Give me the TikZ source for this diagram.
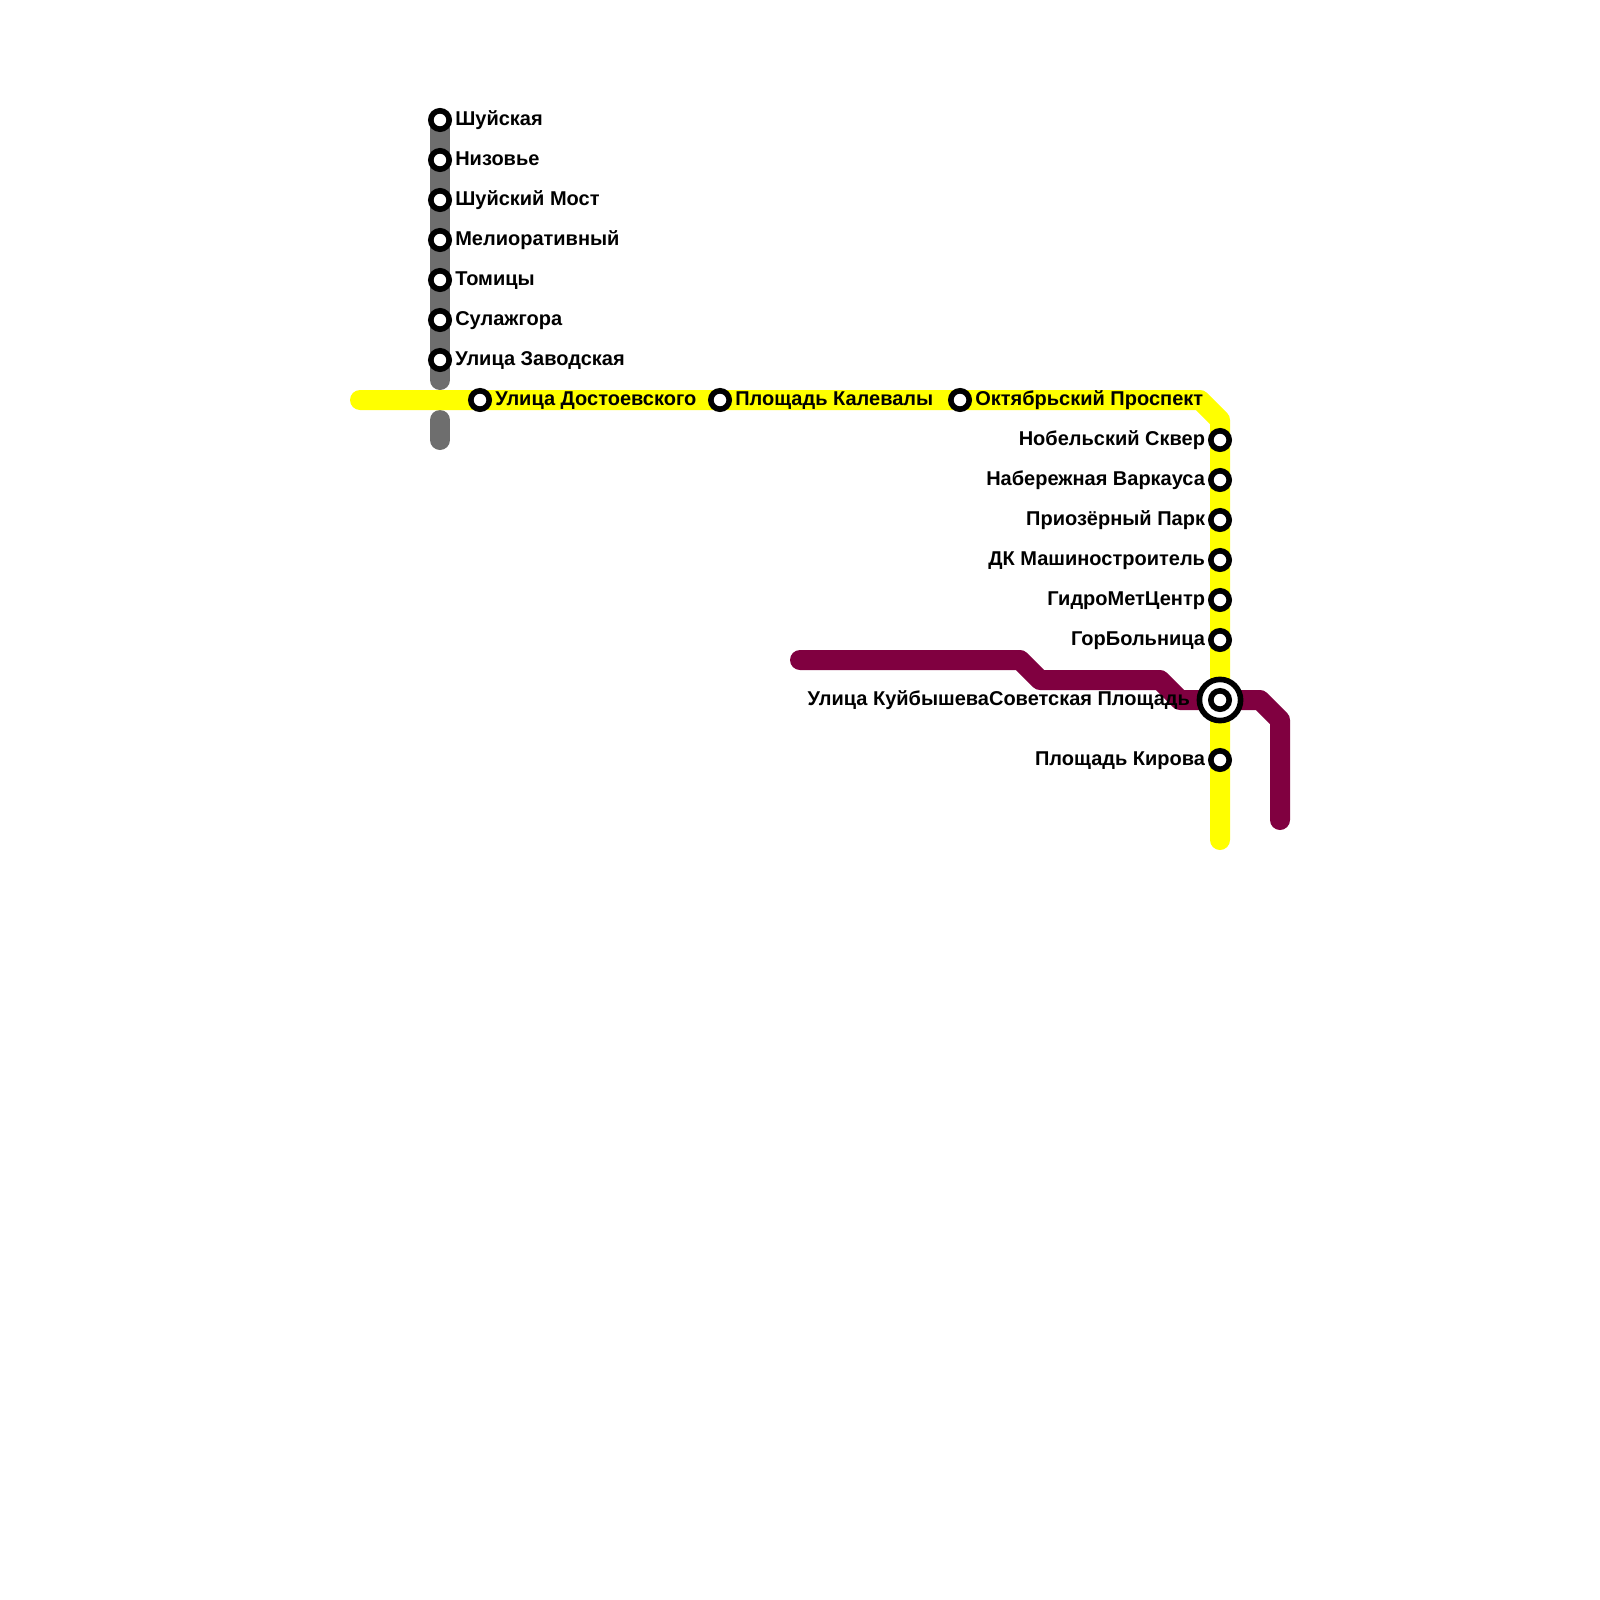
\documentclass[tikz,border=0pt]{standalone}
\usepackage{fontspec}
\setmainfont{Liberation Sans}
\usetikzlibrary{backgrounds,positioning}
\definecolor{amarillo}{HTML}{FFFF00}
\definecolor{gris}{HTML}{6E6E6E}
\definecolor{granate}{HTML}{800040}

\begin{document}
\begin{tikzpicture}[x=1pt, y=-1pt,
      linea/.style={line width=20pt, line cap=round, line join=round},
      estacion/.style={circle, draw=black, fill=white, line width=5.6pt, minimum size=18.4pt, inner sep=0pt},
      cruce/.style={circle, draw=black, fill=white, line width=5.6pt, minimum size=41.2pt, inner sep=0pt},
      rotulo/.style={font=\bfseries\fontsize{20}{20}\selectfont, text=black, inner sep=0pt,
                     text height=14pt, text depth=0pt, yshift=1.5pt}]
    \useasboundingbox (0,0) rectangle (1600,1600);
    % linea gris
    \node[estacion] (shuiskaya) at (440,120) {};
    \node[estacion] (nizovie) at (440,160) {};
    \node[estacion] (most) at (440,200) {};
    \node[estacion] (melior) at (440,240) {};
    \node[estacion] (tomitsy) at (440,280) {};
    \node[estacion] (sulazh) at (440,320) {};
    \node[estacion] (zavod) at (440,360) {};
    \coordinate (grisA) at (440,380);
    \coordinate (grisB) at (440,420);
    \coordinate (grisC) at (440,440);
    % linea amarilla
    \coordinate (amaA) at (360,400);
    \coordinate (amaB) at (1200,400);
    \coordinate (amaC) at (1220,420);
    \coordinate (amaD) at (1220,840);
    \node[estacion] (dostoev) at (480,400) {};
    \node[estacion] (kalevala) at (720,400) {};
    \node[estacion] (oktyabr) at (960,400) {};
    \node[estacion] (nobel) at (1220,440) {};
    \node[estacion] (varkaus) at (1220,480) {};
    \node[estacion] (priozer) at (1220,520) {};
    \node[estacion] (mashin) at (1220,560) {};
    \node[estacion] (gidromet) at (1220,600) {};
    \node[estacion] (gorbol) at (1220,640) {};
    \node[cruce] (sovet) at (1220,700) {};
    \node[estacion] (kuib) at (1220,700) {};
    \node[estacion] (kirov) at (1220,760) {};
    % linea granate
    \coordinate (graA) at (800,660);
    \coordinate (graB) at (1020,660);
    \coordinate (graC) at (1040,680);
    \coordinate (graD) at (1160,680);
    \coordinate (graE) at (1180,700);
    \coordinate (graF) at (1260,700);
    \coordinate (graG) at (1280,720);
    \coordinate (graH) at (1280,820);
    \begin{scope}[on background layer]
      \draw[linea, gris] (shuiskaya.center) -- (grisA);
      \draw[linea, gris] (grisB) -- (grisC);
      \draw[linea, amarillo] (amaA) -- (amaB) -- (amaC) -- (amaD);
      \draw[linea, granate] (graA) -- (graB) -- (graC) -- (graD) -- (graE) -- (graF) -- (graG) -- (graH);
    \end{scope}
    % rotulos
    \node[rotulo, right=3.1pt of shuiskaya] (lShuiskaya) {Шуйская};
    \node[rotulo, right=3.1pt of nizovie] (lNizovie) {Низовье};
    \node[rotulo, right=3.1pt of most] (lMost) {Шуйский Мост};
    \node[rotulo, right=3.1pt of melior] (lMelior) {Мелиоративный};
    \node[rotulo, right=3.1pt of tomitsy] (lTomitsy) {Томицы};
    \node[rotulo, right=3.1pt of sulazh] (lSulazh) {Сулажгора};
    \node[rotulo, right=3.1pt of zavod] (lZavod) {Улица Заводская};
    \node[rotulo, right=3.1pt of dostoev] (lDostoev) {Улица Достоевского};
    \node[rotulo, right=3.1pt of kalevala] (lKalevala) {Площадь Калевалы};
    \node[rotulo, right=3.1pt of oktyabr] (lOktyabr) {Октябрьский Проспект};
    \node[rotulo, left=2.8pt of nobel] (lNobel) {Нобельский Сквер};
    \node[rotulo, left=2.8pt of varkaus] (lVarkaus) {Набережная Варкауса};
    \node[rotulo, left=2.8pt of priozer] (lPriozer) {Приозёрный Парк};
    \node[rotulo, left=2.8pt of mashin] (lMashin) {ДК Машиностроитель};
    \node[rotulo, left=2.8pt of gidromet] (lGidromet) {ГидроМетЦентр};
    \node[rotulo, left=2.8pt of gorbol] (lGorbol) {ГорБольница};
    \node[rotulo, left=6.5pt of sovet] (lSovet) {Улица КуйбышеваСоветская Площадь};
    \node[rotulo, left=2.8pt of kirov] (lKirov) {Площадь Кирова};
  \end{tikzpicture}
\end{document}
